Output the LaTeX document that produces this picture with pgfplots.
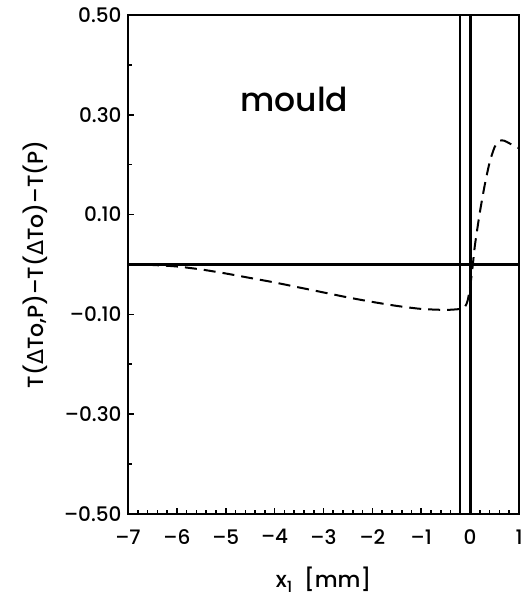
\documentclass[border=0pt]{standalone}
\usepackage{fontspec}
\setmainfont{Poppins}[UprightFont=* Medium]
\newfontfamily\dej{DejaVu Sans}
\usepackage{pgfplots}
\pgfplotsset{compat=1.18}
\begin{document}
\begin{tikzpicture}
\begin{axis}[
  scale only axis,
  width=391pt, height=499pt,
  xmin=-7, xmax=1, ymin=-0.5, ymax=0.5,
  axis line style={line width=2.2pt},
  xtick={-7,-6,-5,-4,-3,-2,-1,0,1},
  xticklabels={–7,–6,–5,–4,–3,–2,–1,0,1},
  minor x tick num=4,
  ytick={-0.5,-0.3,-0.1,0.1,0.3,0.5},
  yticklabels={–0.50,–0.30,–0.10,0.10,0.30,0.50},
  minor ytick={-0.4,-0.2,0,0.2,0.4},
  tick align=inside,
  xtick pos=left, ytick pos=left,
  major tick length=6pt, minor tick length=4pt,
  tick style={line width=1.6pt, black},
  ticklabel style={font=\fontsize{20}{22}\selectfont},
  xticklabel style={yshift=-12pt},
  yticklabel style={xshift=-3pt},
  xlabel={x\textsubscript{1}\ \ [mm]},
  ylabel={T({\dej Δ}To,P)–T({\dej Δ}To)–T(P)},
  label style={font=\fontsize{22}{24}\selectfont},
  xlabel style={yshift=-16pt},
  ylabel style={yshift=10pt},
  clip=false,
]
\addplot[black, line width=2.6pt] coordinates {(-7,0) (1,0)};
\addplot[black, line width=2pt] coordinates {(-0.2,-0.5) (-0.2,0.5)};
\addplot[black, line width=3pt] coordinates {(0,-0.5) (0,0.5)};
\addplot[black, line width=2pt, dash pattern=on 12pt off 7pt, smooth, tension=0.4] coordinates {
(-7,0) (-6.5,-0.001) (-6,-0.004) (-5.5,-0.010) (-5,-0.018) (-4.5,-0.027)
(-4,-0.036) (-3.5,-0.046) (-3,-0.056) (-2.5,-0.066) (-2,-0.075)
(-1.5,-0.083) (-1,-0.089) (-0.5,-0.091) (-0.2,-0.089) (-0.1,-0.084)
(-0.05,-0.072) (0,-0.045) (0.05,-0.005) (0.1,0.04) (0.2,0.105) (0.3,0.16)
(0.4,0.205) (0.5,0.235) (0.6,0.248) (0.7,0.248) (0.8,0.243) (0.9,0.238) (1.0,0.233)};
\node[font=\fontsize{33}{36}\selectfont] at (axis cs:-3.6,0.33) {mould};
\end{axis}
\path ([shift={(-128pt,-88pt)}]current axis.south west) rectangle ([shift={(5pt,15pt)}]current axis.north east);
\end{tikzpicture}
\end{document}
